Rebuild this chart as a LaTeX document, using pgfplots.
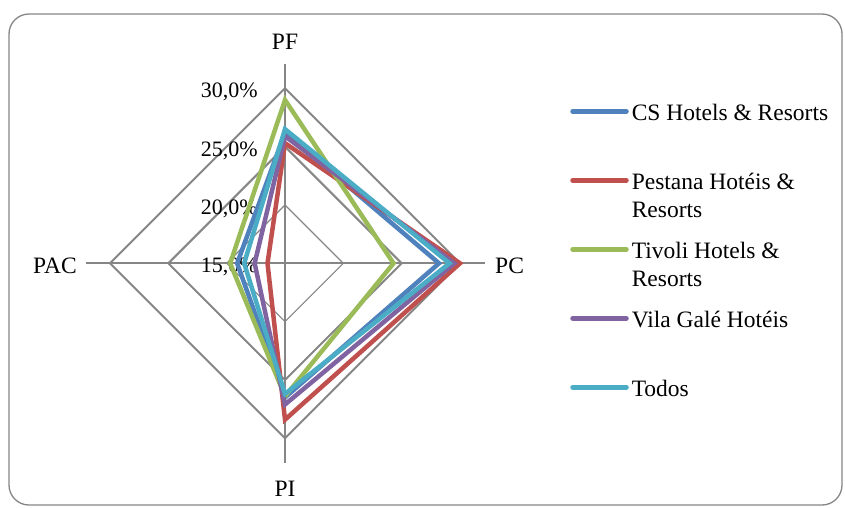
\documentclass[border=0pt]{standalone}
\usepackage{pgfplots}
\pgfplotsset{compat=1.18}
\usepackage{pgfplotstable}
\usepackage{fontspec}
\setmainfont{Liberation Serif}
\definecolor{csblue}{HTML}{4F81BD}
\definecolor{pered}{HTML}{C0504D}
\definecolor{tigreen}{HTML}{9BBB59}
\definecolor{vipurple}{HTML}{8064A2}
\definecolor{tocyan}{HTML}{4BACC6}
\definecolor{gridgray}{HTML}{868686}
\pgfplotstableread{
cat a cs pe ti vi to
PF 90 26.2 25.3 29.0 25.9 26.5
PC 0 28.2 30.0 24.3 29.5 29.1
PI 270 26.5 28.4 26.4 27.1 26.2
PAC 180 19.1 16.5 19.7 17.6 18.5
}\radar
\begin{document}
\begin{tikzpicture}[font=\fontsize{22}{28}\selectfont]
\path[use as bounding box] (0pt,0pt) rectangle (845pt,-507pt);
\draw[gridgray, line width=1.3pt, rounded corners=20pt] (9pt,-14pt) rectangle (842pt,-505pt);
\begin{axis}[anchor=origin, at={(285pt,-263.3pt)}, x=11.6667pt, y=11.6667pt,
  hide axis, clip=false, xmin=-17, xmax=17, ymin=-17, ymax=17,
  legend style={at={(1.2191,0.9008)}, anchor=north west, draw=none, fill=none,
    inner sep=0pt, outer sep=0pt, row sep=50.7pt, cells={anchor=base west},
    nodes={inner sep=0pt, text height=16pt, text depth=0pt},
    font=\fontsize{23.5}{28}\selectfont},
  legend image code/.code={\draw[#1, line width=5pt, line cap=round] (0pt,9pt) -- (53.5pt,9pt); \path (56.75pt,0pt);},
  every axis plot/.append style={line width=4.5pt, line join=miter, mark=none}]
% grid
\draw[gridgray, line width=1.2pt] (axis cs:0,5) -- (axis cs:5,0) -- (axis cs:0,-5) -- (axis cs:-5,0) -- cycle;
\draw[gridgray, line width=2pt] (axis cs:0,10) -- (axis cs:10,0) -- (axis cs:0,-10) -- (axis cs:-10,0) -- cycle;
\draw[gridgray, line width=2pt] (axis cs:0,15) -- (axis cs:15,0) -- (axis cs:0,-15) -- (axis cs:-15,0) -- cycle;
\draw[gridgray, line width=2pt] (axis cs:0,-17.1) -- (axis cs:0,17.1);
\draw[gridgray, line width=2pt] (axis cs:-17.1,0) -- (axis cs:17.1,0);
% tick labels
\node[anchor=base east, inner sep=0pt] at (axis cs:0,15) [xshift=-27pt, yshift=-9.5pt] {30,0\%};
\node[anchor=base east, inner sep=0pt] at (axis cs:0,10) [xshift=-27pt, yshift=-9.5pt] {25,0\%};
\node[anchor=base east, inner sep=0pt] at (axis cs:0,5) [xshift=-27pt, yshift=-9.5pt] {20,0\%};
\node[anchor=base east, inner sep=0pt] at (axis cs:0,0) [xshift=-27pt, yshift=-9.5pt] {15,0\%};
\addplot[csblue] table[x expr={(\thisrow{cs}-15)*cos(\thisrow{a})}, y expr={(\thisrow{cs}-15)*sin(\thisrow{a})}] {\radar} -- cycle;
\addlegendentry{\parbox[t]{215pt}{\raggedright CS Hotels \& Resorts}}
\addplot[pered] table[x expr={(\thisrow{pe}-15)*cos(\thisrow{a})}, y expr={(\thisrow{pe}-15)*sin(\thisrow{a})}] {\radar} -- cycle;
\addlegendentry{\parbox[t]{215pt}{\raggedright Pestana Hotéis \&\\Resorts}}
\addplot[tigreen] table[x expr={(\thisrow{ti}-15)*cos(\thisrow{a})}, y expr={(\thisrow{ti}-15)*sin(\thisrow{a})}] {\radar} -- cycle;
\addlegendentry{\parbox[t]{215pt}{\raggedright Tivoli Hotels \&\\Resorts}}
\addplot[vipurple] table[x expr={(\thisrow{vi}-15)*cos(\thisrow{a})}, y expr={(\thisrow{vi}-15)*sin(\thisrow{a})}] {\radar} -- cycle;
\addlegendentry{\parbox[t]{215pt}{\raggedright Vila Galé Hotéis}}
\addplot[tocyan] table[x expr={(\thisrow{to}-15)*cos(\thisrow{a})}, y expr={(\thisrow{to}-15)*sin(\thisrow{a})}] {\radar} -- cycle;
\addlegendentry{\parbox[t]{215pt}{\raggedright Todos}}
\end{axis}
\begin{scope}[font=\fontsize{23.5}{28}\selectfont]
\node[anchor=base, inner sep=0pt] at (285pt,-49.3pt) {PF};
\node[anchor=base, inner sep=0pt] at (285pt,-496pt) {PI};
\node[anchor=base east, inner sep=0pt] at (77pt,-273pt) {PAC};
\node[anchor=base west, inner sep=0pt] at (495pt,-273pt) {PC};
\end{scope}
\end{tikzpicture}
\end{document}
